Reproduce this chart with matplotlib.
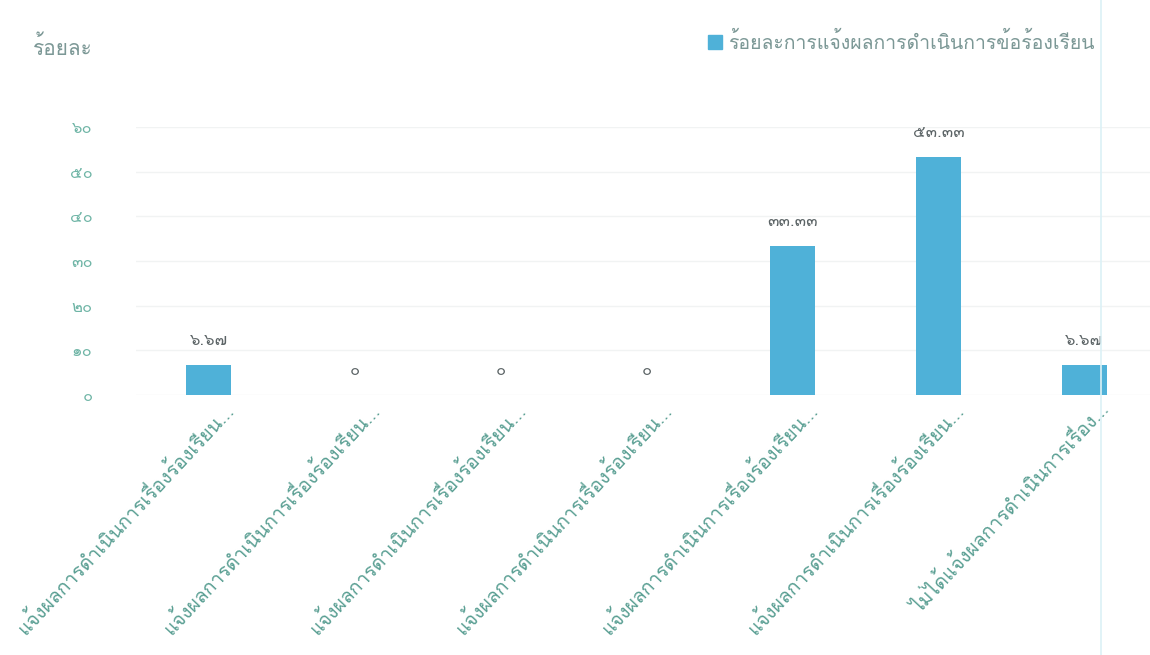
import matplotlib
matplotlib.use("Agg")
import matplotlib.pyplot as plt
import matplotlib.transforms as mtransforms
from matplotlib import font_manager
from matplotlib.ft2font import FT2Font
from matplotlib.lines import Line2D
from matplotlib.patches import Rectangle

# ข้อมูลร้อยละการแจ้งผลการดำเนินการข้อร้องเรียน
categories = [
    "แจ้งผลการดำเนินการเรื่องร้องเรียน...",
    "แจ้งผลการดำเนินการเรื่องร้องเรียน...",
    "แจ้งผลการดำเนินการเรื่องร้องเรียน...",
    "แจ้งผลการดำเนินการเรื่องร้องเรียน...",
    "แจ้งผลการดำเนินการเรื่องร้องเรียน...",
    "แจ้งผลการดำเนินการเรื่องร้องเรียน...",
    "ไม่ได้แจ้งผลการดำเนินการเรื่อง...",
]
percent = [6.67, 0, 0, 0, 33.33, 53.33, 6.67]
y_ticks = [0, 10, 20, 30, 40, 50, 60]
series_name = "ร้อยละการแจ้งผลการดำเนินการข้อร้องเรียน"
y_title = "ร้อยละ"


def find_thai_fonts():
    """หาฟอนต์ที่มีอักษรไทย"""
    names = []
    for f in font_manager.fontManager.ttflist:
        try:
            if 0x0E01 in FT2Font(f.fname).get_charmap():
                if f.name not in names:
                    names.append(f.name)
        except Exception:
            pass
    return names


thai_fonts = find_thai_fonts()
plt.rcParams["font.family"] = thai_fonts + ["DejaVu Sans"]

THAI_DIGITS = str.maketrans("0123456789", "๐๑๒๓๔๕๖๗๘๙")


def thai_num(v):
    if v == 0:
        return "0".translate(THAI_DIGITS)
    return f"{v:.2f}".translate(THAI_DIGITS)


bar_color = "#4fb1d8"
tick_color = "#6fb5a6"
label_color = "#5a9f93"

fig = plt.figure(figsize=(11.5, 6.55), dpi=100)
ax = fig.add_axes([0.118, 0.397, 0.882, 0.409])

x = list(range(len(categories)))
bars = ax.bar(x, percent, width=0.31, color=bar_color, zorder=2)

for rect, v in zip(bars, percent):
    ax.text(rect.get_x() + rect.get_width() / 2, v + 3.6, thai_num(v),
            ha="center", va="bottom", fontsize=12, color="#5c6466")

ax.set_xlim(-0.5, 6.45)
ax.set_ylim(0, 60)
ax.set_yticks(y_ticks)
ax.set_yticklabels([str(t).translate(THAI_DIGITS) for t in y_ticks],
                   fontsize=12, color=tick_color)
ax.tick_params(axis="y", length=0, pad=31)
ax.grid(axis="y", color="#f1f3f3", linewidth=1, zorder=0)

ax.set_xticks(x)
ax.set_xticklabels(categories, rotation=47, ha="right",
                   rotation_mode="anchor", fontsize=14, color=label_color)
ax.tick_params(axis="x", length=0, pad=3)
# เลื่อนป้ายแกน x ไปทางขวาเล็กน้อย
shift = mtransforms.ScaledTranslation(14 / 100, 0, fig.dpi_scale_trans)
for lbl in ax.get_xticklabels():
    lbl.set_transform(lbl.get_transform() + shift)

for s in ax.spines.values():
    s.set_visible(False)

# ชื่อแกนและคำอธิบาย
fig.text(0.029, 0.928, y_title, fontsize=15, color="#7c9896",
         ha="left", va="center")
fig.patches.append(Rectangle((0.616, 0.925), 0.012, 0.021,
                             transform=fig.transFigure, color=bar_color))
fig.text(0.633, 0.935, series_name, fontsize=14, color="#7c9896",
         ha="left", va="center")

# เส้นขอบแนวตั้งด้านขวา
fig.lines.append(Line2D([0.957, 0.957], [0, 1], transform=fig.transFigure,
                        color="#dcf1f6", linewidth=1.2))

fig.savefig("out.png", dpi=100, facecolor="white")
